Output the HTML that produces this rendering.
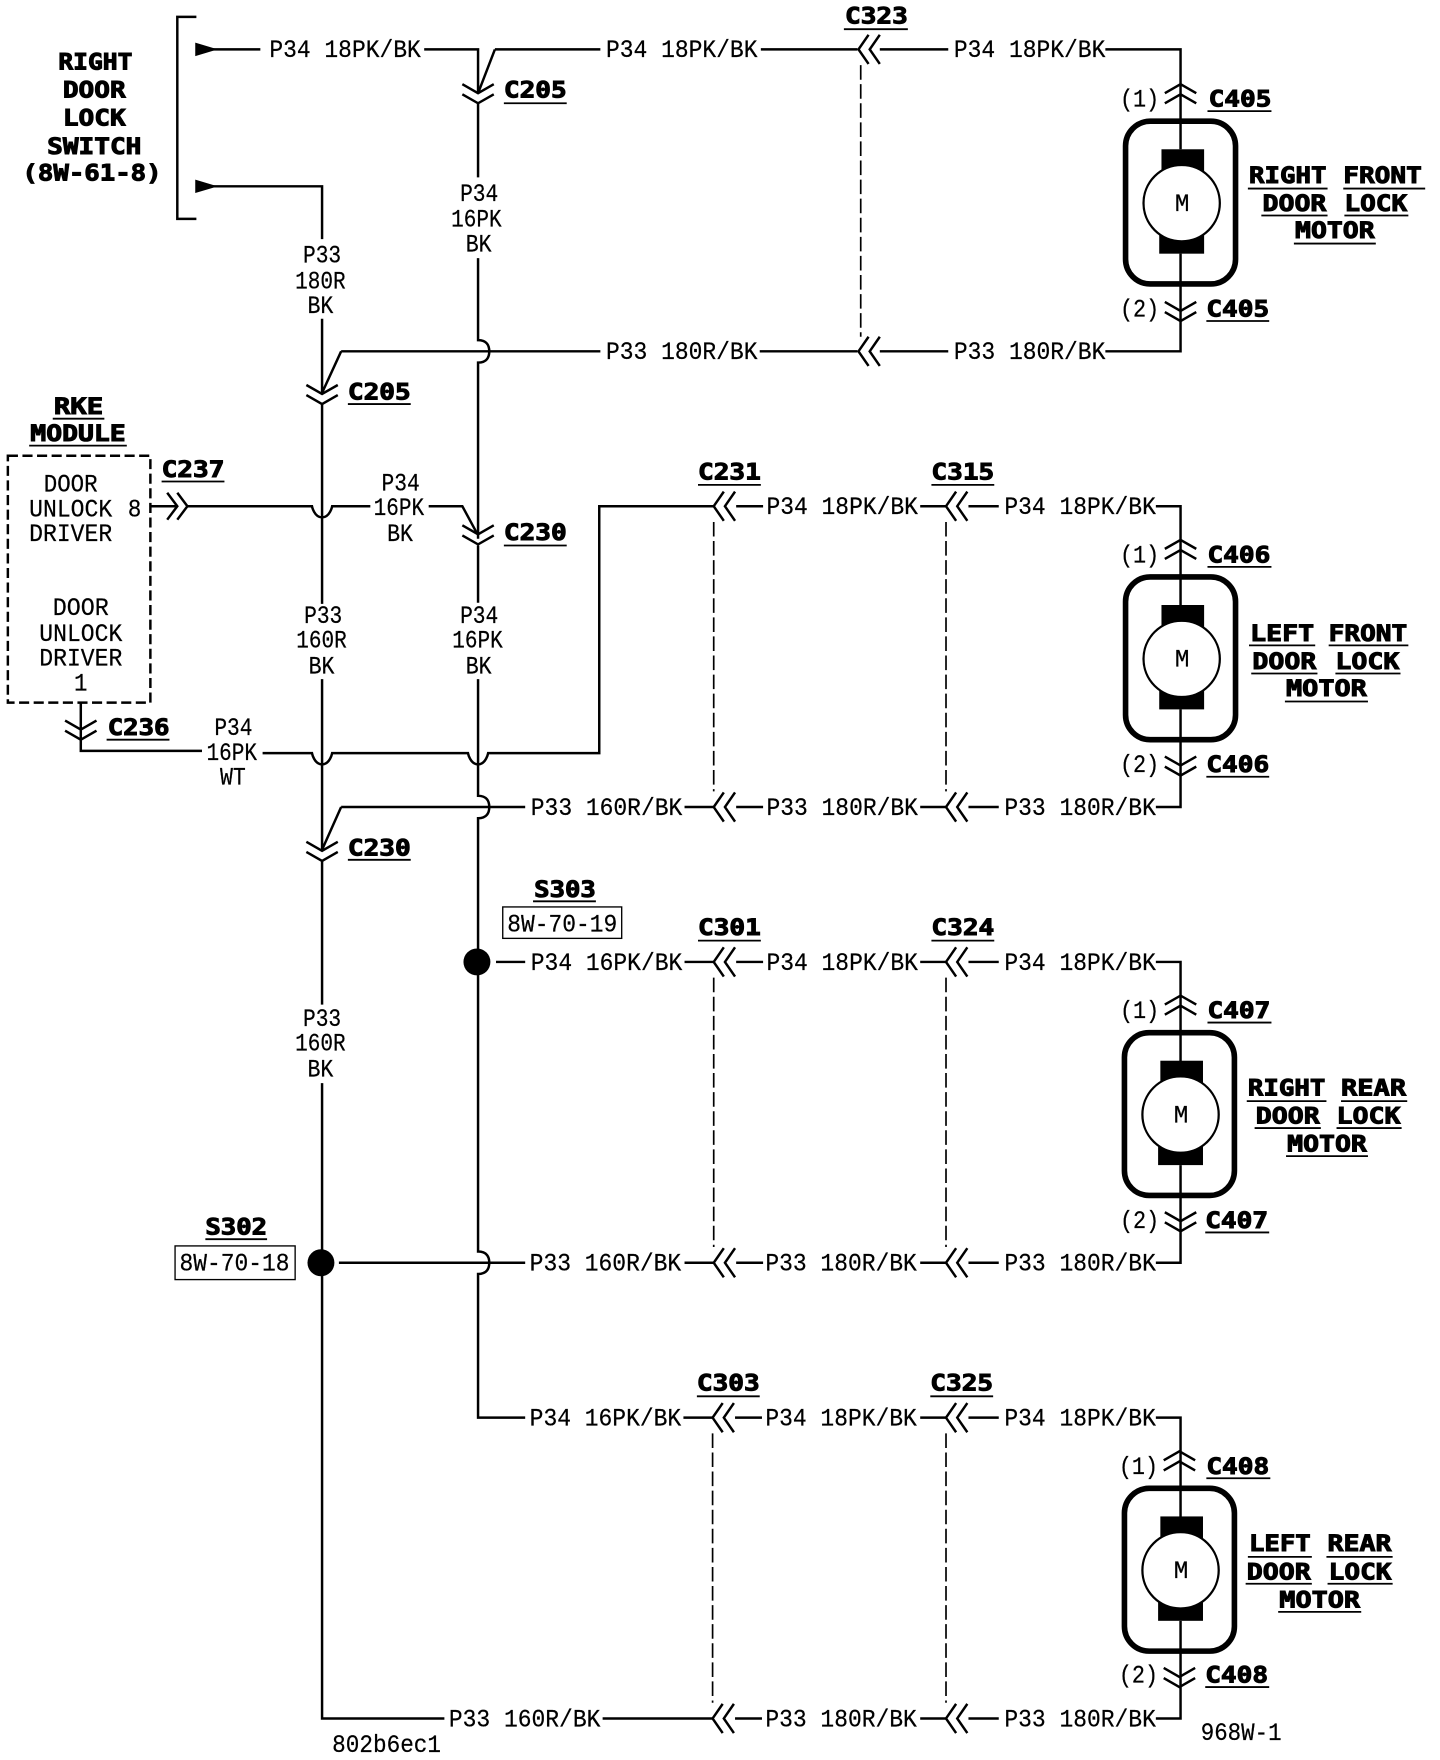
<!DOCTYPE html>
<html><head><meta charset="utf-8"><title>Door lock wiring diagram</title>
<style>
html,body{margin:0;padding:0;background:#fff}
svg{display:block;position:absolute;left:0;top:0}
text{white-space:pre;fill:#000}
.t{font-family:"Liberation Mono",monospace;font-size:22.5px;stroke:#000;stroke-width:.2px}
.b{font-family:"DejaVu Sans Mono","Liberation Mono",monospace;font-weight:bold;font-size:20px;stroke:#000;stroke-width:.9px}
.w{fill:none;stroke:#000;stroke-width:2.2}
.u{fill:none;stroke:#000;stroke-width:1.6}
.d{fill:none;stroke:#000;stroke-width:1.5;stroke-dasharray:13 4}
</style></head><body>
<svg xmlns="http://www.w3.org/2000/svg" width="1440" height="1760" viewBox="0 0 1283.2 1568" preserveAspectRatio="none">
<defs>
<path id="cd" class="w" d="M-14,1L0,9L14,1M-14,10L0,18L14,10"/>
<path id="cu" class="w" d="M-14,17L0,9L14,17M-14,8L0,0L14,8"/>
<path id="cl" class="w" d="M9,-13L0,0L9,13M19,-13L10,0L19,13"/>
<g id="mot">
<rect x="-49" y="-73" width="98" height="145" rx="22" ry="22" fill="none" stroke="#000" stroke-width="5"/>
<rect x="-17" y="-48" width="38" height="30" fill="#000"/>
<rect x="-19" y="18" width="40" height="27" fill="#000"/>
<circle cx="1" cy="0" r="34" fill="#fff" stroke="#000" stroke-width="2"/>
</g>
</defs>

<!-- bracket and switch -->
<path class="w" d="M175,15H158V195H175"/>
<path d="M174,38L194,44L174,50Z"/><path d="M174,160L194,166L174,172Z"/>
<path class="w" d="M190,44H232M378,44H426V83M441,44H535M426,91V158M426,230V303c8,0 10,5 10,10c0,5 -2,10 -10,10V480"/>
<path class="w" d="M441,44L426,83"/>
<path class="w" d="M190,166H287V213M287,284V350M304,313H535M304,313L287,350M287,359V538M287,605V757M304,719H468M304,719L287,757M287,767V895M287,965V1531H396"/>
<path class="w" d="M426,486V537M426,605V709c8,0 10,5 10,10c0,5 -2,10 -10,10V847M426,867V1115c8,0 10,5 10,10c0,5 -2,10 -10,10V1263H468"/>
<path class="w" d="M167,451H278c0,0 2,10 9,10c7,0 9,-10 9,-10H330M382,451H412L425,475"/>
<path class="w" d="M134,451H157M72,626V669H180M234,671H278c0,0 2,10 9,10c7,0 9,-10 9,-10H417c0,0 2,10 9,10c7,0 9,-10 9,-10H534V451H636"/>
<path class="w" d="M149,439L158,451L149,463M158,439L167,451L158,463"/>
<rect x="7" y="406" width="127" height="220" fill="none" stroke="#000" stroke-width="2.2" stroke-dasharray="9 4"/>

<use href="#cd" x="426" y="74"/><use href="#cd" x="287" y="342"/><use href="#cd" x="426" y="467"/><use href="#cd" x="287" y="749"/><use href="#cd" x="72" y="641"/>

<!-- row 1 -->
<path class="w" d="M678,44H764M784,44H845M985,44H1052V133M677,313H764M784,313H845M985,313H1052V226"/>
<use href="#cl" x="765" y="44"/><use href="#cl" x="765" y="313"/>
<path class="d" d="M767,58V300"/>
<use href="#mot" x="1052" y="181"/><use href="#cu" x="1052" y="75"/><use href="#cd" x="1052" y="268"/>

<!-- row 2 -->
<path class="w" d="M656,451H680M820,451H843M863,451H890M1030,451H1052V540M610,719H636M656,719H680M820,719H843M863,719H890M1030,719H1052V632"/>
<use href="#cl" x="636" y="451"/><use href="#cl" x="843" y="451"/><use href="#cl" x="636" y="719"/><use href="#cl" x="843" y="719"/>
<path class="d" d="M636,465V705M843,465V705"/>
<use href="#mot" x="1052" y="587"/><use href="#cu" x="1052" y="481"/><use href="#cd" x="1052" y="673"/>

<!-- row 3 -->
<circle cx="425" cy="857" r="12"/><circle cx="286" cy="1125" r="12"/>
<path class="w" d="M442,857H468M610,857H636M656,857H680M820,857H843M863,857H890M1030,857H1052V946M302,1125H468M610,1125H636M656,1125H680M820,1125H843M863,1125H890M1030,1125H1052V1038"/>
<use href="#cl" x="636" y="857"/><use href="#cl" x="843" y="857"/><use href="#cl" x="636" y="1125"/><use href="#cl" x="843" y="1125"/>
<path class="d" d="M636,871V1111M843,871V1111"/>
<use href="#mot" x="1051" y="993"/><use href="#cu" x="1052" y="887"/><use href="#cd" x="1052" y="1079"/>

<!-- row 4 -->
<path class="w" d="M609,1263H635M655,1263H679M820,1263H843M863,1263H890M1030,1263H1052V1352M537,1531H635M655,1531H679M820,1531H843M863,1531H890M1030,1531H1052V1444"/>
<use href="#cl" x="635" y="1263"/><use href="#cl" x="843" y="1263"/><use href="#cl" x="635" y="1531"/><use href="#cl" x="843" y="1531"/>
<path class="d" d="M635,1277V1517M843,1277V1517"/>
<use href="#mot" x="1051" y="1399"/><use href="#cu" x="1051" y="1293"/><use href="#cd" x="1051" y="1485"/>

<!-- wire labels -->
<g class="t">
<text x="240" y="51" textLength="135" lengthAdjust="spacingAndGlyphs">P34 18PK/BK</text>
<text x="540" y="51" textLength="135" lengthAdjust="spacingAndGlyphs">P34 18PK/BK</text>
<text x="850" y="51" textLength="135" lengthAdjust="spacingAndGlyphs">P34 18PK/BK</text>
<text x="540" y="320" textLength="135" lengthAdjust="spacingAndGlyphs">P33 180R/BK</text>
<text x="850" y="320" textLength="135" lengthAdjust="spacingAndGlyphs">P33 180R/BK</text>
<text x="683" y="458" textLength="135" lengthAdjust="spacingAndGlyphs">P34 18PK/BK</text>
<text x="895" y="458" textLength="135" lengthAdjust="spacingAndGlyphs">P34 18PK/BK</text>
<text x="473" y="726" textLength="135" lengthAdjust="spacingAndGlyphs">P33 160R/BK</text>
<text x="683" y="726" textLength="135" lengthAdjust="spacingAndGlyphs">P33 180R/BK</text>
<text x="895" y="726" textLength="135" lengthAdjust="spacingAndGlyphs">P33 180R/BK</text>
<text x="473" y="864" textLength="135" lengthAdjust="spacingAndGlyphs">P34 16PK/BK</text>
<text x="683" y="864" textLength="135" lengthAdjust="spacingAndGlyphs">P34 18PK/BK</text>
<text x="895" y="864" textLength="135" lengthAdjust="spacingAndGlyphs">P34 18PK/BK</text>
<text x="472" y="1132" textLength="135" lengthAdjust="spacingAndGlyphs">P33 160R/BK</text>
<text x="682" y="1132" textLength="135" lengthAdjust="spacingAndGlyphs">P33 180R/BK</text>
<text x="895" y="1132" textLength="135" lengthAdjust="spacingAndGlyphs">P33 180R/BK</text>
<text x="472" y="1270" textLength="135" lengthAdjust="spacingAndGlyphs">P34 16PK/BK</text>
<text x="682" y="1270" textLength="135" lengthAdjust="spacingAndGlyphs">P34 18PK/BK</text>
<text x="895" y="1270" textLength="135" lengthAdjust="spacingAndGlyphs">P34 18PK/BK</text>
<text x="400" y="1538" textLength="135" lengthAdjust="spacingAndGlyphs">P33 160R/BK</text>
<text x="682" y="1538" textLength="135" lengthAdjust="spacingAndGlyphs">P33 180R/BK</text>
<text x="895" y="1538" textLength="135" lengthAdjust="spacingAndGlyphs">P33 180R/BK</text>

<text x="410" y="179" textLength="34" lengthAdjust="spacingAndGlyphs">P34</text>
<text x="402" y="202" textLength="45" lengthAdjust="spacingAndGlyphs">16PK</text>
<text x="415" y="224" textLength="23" lengthAdjust="spacingAndGlyphs">BK</text>
<text x="270" y="234" textLength="34" lengthAdjust="spacingAndGlyphs">P33</text>
<text x="263" y="257" textLength="45" lengthAdjust="spacingAndGlyphs">180R</text>
<text x="274" y="279" textLength="23" lengthAdjust="spacingAndGlyphs">BK</text>
<text x="340" y="437" textLength="34" lengthAdjust="spacingAndGlyphs">P34</text>
<text x="333" y="459" textLength="45" lengthAdjust="spacingAndGlyphs">16PK</text>
<text x="345" y="482" textLength="23" lengthAdjust="spacingAndGlyphs">BK</text>
<text x="271" y="555" textLength="34" lengthAdjust="spacingAndGlyphs">P33</text>
<text x="264" y="577" textLength="45" lengthAdjust="spacingAndGlyphs">160R</text>
<text x="275" y="600" textLength="23" lengthAdjust="spacingAndGlyphs">BK</text>
<text x="410" y="555" textLength="34" lengthAdjust="spacingAndGlyphs">P34</text>
<text x="403" y="577" textLength="45" lengthAdjust="spacingAndGlyphs">16PK</text>
<text x="415" y="600" textLength="23" lengthAdjust="spacingAndGlyphs">BK</text>
<text x="191" y="655" textLength="34" lengthAdjust="spacingAndGlyphs">P34</text>
<text x="184" y="677" textLength="45" lengthAdjust="spacingAndGlyphs">16PK</text>
<text x="196" y="699" textLength="23" lengthAdjust="spacingAndGlyphs">WT</text>
<text x="270" y="914" textLength="34" lengthAdjust="spacingAndGlyphs">P33</text>
<text x="263" y="936" textLength="45" lengthAdjust="spacingAndGlyphs">160R</text>
<text x="274" y="959" textLength="23" lengthAdjust="spacingAndGlyphs">BK</text>

<text x="39" y="438" textLength="48" lengthAdjust="spacingAndGlyphs">DOOR</text>
<text x="26" y="460" textLength="74" lengthAdjust="spacingAndGlyphs">UNLOCK</text>
<text x="114" y="460" textLength="12" lengthAdjust="spacingAndGlyphs">8</text>
<text x="26" y="482" textLength="74" lengthAdjust="spacingAndGlyphs">DRIVER</text>
<text x="47" y="548" textLength="50" lengthAdjust="spacingAndGlyphs">DOOR</text>
<text x="35" y="571" textLength="74" lengthAdjust="spacingAndGlyphs">UNLOCK</text>
<text x="35" y="593" textLength="74" lengthAdjust="spacingAndGlyphs">DRIVER</text>
<text x="66" y="615" textLength="12" lengthAdjust="spacingAndGlyphs">1</text>

<text x="452" y="830" textLength="98" lengthAdjust="spacingAndGlyphs">8W-70-19</text>
<text x="160" y="1132" textLength="98" lengthAdjust="spacingAndGlyphs">8W-70-18</text>
<text x="296" y="1561" textLength="97" lengthAdjust="spacingAndGlyphs">802b6ec1</text>
<text x="1070" y="1550" textLength="72" lengthAdjust="spacingAndGlyphs">968W-1</text>

<text x="998" y="95" textLength="35" lengthAdjust="spacingAndGlyphs">(1)</text>
<text x="998" y="282" textLength="35" lengthAdjust="spacingAndGlyphs">(2)</text>
<text x="998" y="501" textLength="35" lengthAdjust="spacingAndGlyphs">(1)</text>
<text x="998" y="688" textLength="35" lengthAdjust="spacingAndGlyphs">(2)</text>
<text x="998" y="907" textLength="35" lengthAdjust="spacingAndGlyphs">(1)</text>
<text x="998" y="1094" textLength="35" lengthAdjust="spacingAndGlyphs">(2)</text>
<text x="997" y="1313" textLength="35" lengthAdjust="spacingAndGlyphs">(1)</text>
<text x="997" y="1499" textLength="35" lengthAdjust="spacingAndGlyphs">(2)</text>

<text x="1047" y="188" textLength="13" lengthAdjust="spacingAndGlyphs">M</text>
<text x="1047" y="594" textLength="13" lengthAdjust="spacingAndGlyphs">M</text>
<text x="1046" y="1000" textLength="13" lengthAdjust="spacingAndGlyphs">M</text>
<text x="1046" y="1406" textLength="13" lengthAdjust="spacingAndGlyphs">M</text>
</g>
<rect x="448" y="808" width="106" height="28" fill="none" stroke="#000" stroke-width="1.2"/>
<rect x="156" y="1110" width="107" height="30" fill="none" stroke="#000" stroke-width="1.2"/>

<!-- bold labels -->
<g class="b">
<text x="52" y="62" textLength="66" lengthAdjust="spacingAndGlyphs">RIGHT</text>
<text x="56" y="87" textLength="56" lengthAdjust="spacingAndGlyphs">DOOR</text>
<text x="56" y="112" textLength="56" lengthAdjust="spacingAndGlyphs">LOCK</text>
<text x="42" y="137" textLength="84" lengthAdjust="spacingAndGlyphs">SWITCH</text>
<text x="20" y="161" textLength="124" lengthAdjust="spacingAndGlyphs">(8W-61-8)</text>
<text x="48" y="369" textLength="44" lengthAdjust="spacingAndGlyphs">RKE</text>
<text x="27" y="393" textLength="85" lengthAdjust="spacingAndGlyphs">MODULE</text>
<text x="449" y="87" textLength="56" lengthAdjust="spacingAndGlyphs">C205</text>
<text x="310" y="356" textLength="56" lengthAdjust="spacingAndGlyphs">C205</text>
<text x="449" y="481" textLength="56" lengthAdjust="spacingAndGlyphs">C230</text>
<text x="310" y="762" textLength="56" lengthAdjust="spacingAndGlyphs">C230</text>
<text x="144" y="425" textLength="56" lengthAdjust="spacingAndGlyphs">C237</text>
<text x="96" y="655" textLength="55" lengthAdjust="spacingAndGlyphs">C236</text>
<text x="753" y="21" textLength="56" lengthAdjust="spacingAndGlyphs">C323</text>
<text x="622" y="427" textLength="56" lengthAdjust="spacingAndGlyphs">C231</text>
<text x="830" y="427" textLength="56" lengthAdjust="spacingAndGlyphs">C315</text>
<text x="622" y="833" textLength="56" lengthAdjust="spacingAndGlyphs">C301</text>
<text x="830" y="833" textLength="56" lengthAdjust="spacingAndGlyphs">C324</text>
<text x="621" y="1239" textLength="56" lengthAdjust="spacingAndGlyphs">C303</text>
<text x="829" y="1239" textLength="56" lengthAdjust="spacingAndGlyphs">C325</text>
<text x="476" y="799" textLength="55" lengthAdjust="spacingAndGlyphs">S303</text>
<text x="183" y="1100" textLength="55" lengthAdjust="spacingAndGlyphs">S302</text>
<text x="1077" y="95" textLength="56" lengthAdjust="spacingAndGlyphs">C405</text>
<text x="1075" y="282" textLength="56" lengthAdjust="spacingAndGlyphs">C405</text>
<text x="1076" y="501" textLength="56" lengthAdjust="spacingAndGlyphs">C406</text>
<text x="1075" y="688" textLength="56" lengthAdjust="spacingAndGlyphs">C406</text>
<text x="1076" y="907" textLength="56" lengthAdjust="spacingAndGlyphs">C407</text>
<text x="1074" y="1094" textLength="56" lengthAdjust="spacingAndGlyphs">C407</text>
<text x="1075" y="1313" textLength="56" lengthAdjust="spacingAndGlyphs">C408</text>
<text x="1074" y="1499" textLength="56" lengthAdjust="spacingAndGlyphs">C408</text>

<text x="1113" y="163" textLength="69" lengthAdjust="spacingAndGlyphs">RIGHT</text>
<text x="1197" y="163" textLength="70" lengthAdjust="spacingAndGlyphs">FRONT</text>
<text x="1125" y="188" textLength="57" lengthAdjust="spacingAndGlyphs">DOOR</text>
<text x="1198" y="188" textLength="56" lengthAdjust="spacingAndGlyphs">LOCK</text>
<text x="1154" y="212" textLength="71" lengthAdjust="spacingAndGlyphs">MOTOR</text>

<text x="1114" y="571" textLength="57" lengthAdjust="spacingAndGlyphs">LEFT</text>
<text x="1184" y="571" textLength="70" lengthAdjust="spacingAndGlyphs">FRONT</text>
<text x="1116" y="596" textLength="57" lengthAdjust="spacingAndGlyphs">DOOR</text>
<text x="1190" y="596" textLength="57" lengthAdjust="spacingAndGlyphs">LOCK</text>
<text x="1146" y="620" textLength="72" lengthAdjust="spacingAndGlyphs">MOTOR</text>

<text x="1112" y="976" textLength="69" lengthAdjust="spacingAndGlyphs">RIGHT</text>
<text x="1195" y="976" textLength="58" lengthAdjust="spacingAndGlyphs">REAR</text>
<text x="1119" y="1001" textLength="57" lengthAdjust="spacingAndGlyphs">DOOR</text>
<text x="1191" y="1001" textLength="57" lengthAdjust="spacingAndGlyphs">LOCK</text>
<text x="1147" y="1026" textLength="71" lengthAdjust="spacingAndGlyphs">MOTOR</text>

<text x="1113" y="1382" textLength="55" lengthAdjust="spacingAndGlyphs">LEFT</text>
<text x="1183" y="1382" textLength="57" lengthAdjust="spacingAndGlyphs">REAR</text>
<text x="1111" y="1407" textLength="57" lengthAdjust="spacingAndGlyphs">DOOR</text>
<text x="1184" y="1407" textLength="56" lengthAdjust="spacingAndGlyphs">LOCK</text>
<text x="1140" y="1432" textLength="72" lengthAdjust="spacingAndGlyphs">MOTOR</text>
</g>

<!-- underlines -->
<path class="u" d="M47,373H93M26,397H113M449,92H505M310,360H366M449,486H505M310,766H366M144,429H200M95,659H151M752,26H809M622,432H678M830,432H886M622,838H678M830,838H886M621,1244H677M829,1244H885M475,803H531M183,1104H238M1076,99H1133M1075,286H1131M1076,505H1133M1075,692H1131M1076,911H1133M1074,1098H1131M1075,1317H1132M1074,1503H1131"/>
<path class="u" d="M1112,168H1183M1197,168H1270M1124,192H1183M1198,192H1255M1153,217H1226M1113,575H1172M1184,575H1255M1115,600H1174M1190,600H1248M1145,625H1219M1111,981H1182M1195,981H1254M1118,1005H1177M1191,1005H1249M1146,1030H1219M1112,1387H1169M1182,1387H1241M1110,1411H1169M1183,1411H1241M1139,1436H1213"/>
</svg>
</body></html>
